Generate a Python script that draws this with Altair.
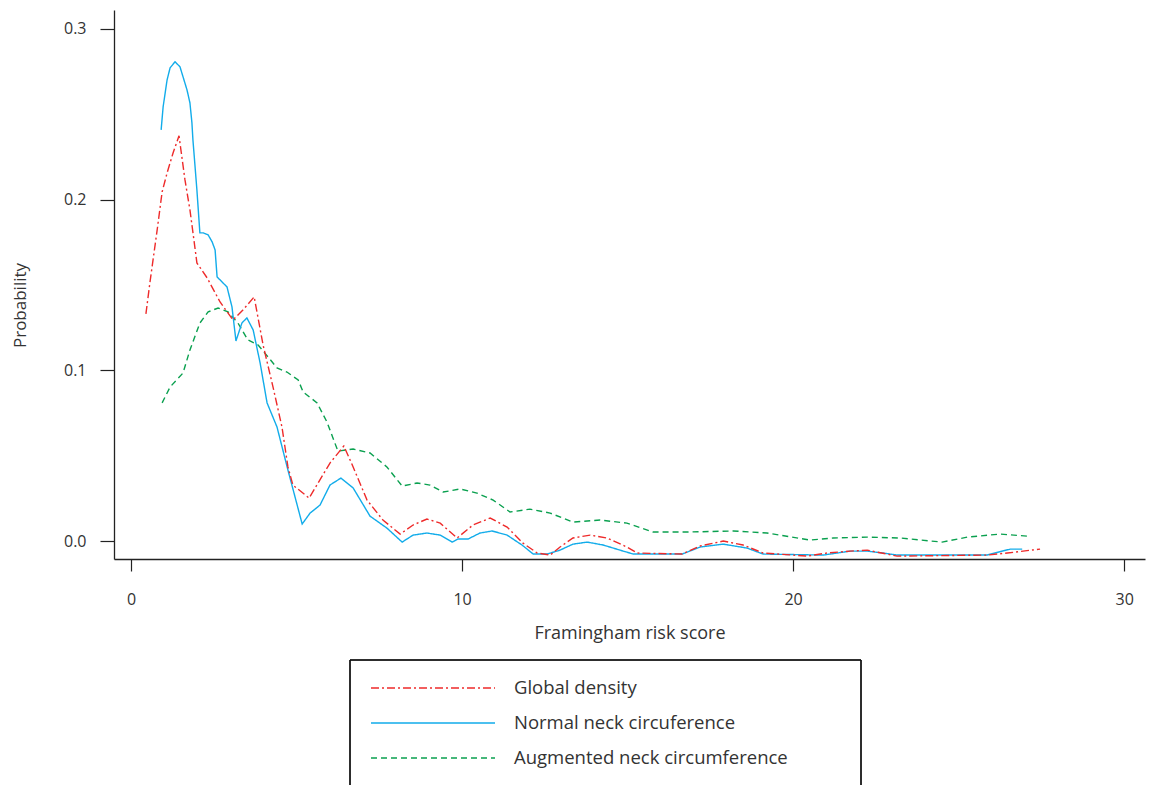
import altair as alt
import pandas as pd

series_names = ["Global density", "Normal neck circuference", "Augmented neck circumference"]
series_colors = ["#ee2a2a", "#12acea", "#0aa04f"]
series_dashes = [[8, 3, 2, 3], [1, 0], [6, 4]]

global_x = [0.45, 0.57, 0.79, 0.94, 1.09, 1.27, 1.45, 1.63, 1.78, 1.90, 1.99, 2.30, 2.69, 3.08,
            3.38, 3.72, 3.99, 4.29, 4.56, 4.74, 4.89, 5.38, 5.65, 6.01, 6.43, 6.71, 7.13, 7.61,
            8.13, 8.52, 8.94, 9.34, 9.85, 10.33, 10.85, 11.36, 11.84, 12.27, 12.66, 12.96, 13.35,
            13.87, 14.38, 14.98, 15.29, 16.65, 17.19, 17.89, 18.49, 19.09, 20.42, 21.03, 21.72,
            22.24, 23.14, 25.86, 26.47, 27.46]
global_y = [0.1330, 0.1512, 0.1822, 0.2045, 0.2156, 0.2273, 0.2373, 0.2115, 0.1939, 0.1764,
            0.1629, 0.1541, 0.1400, 0.1295, 0.1353, 0.1430, 0.1148, 0.0902, 0.0668, 0.0434,
            0.0328, 0.0252, 0.0340, 0.0457, 0.0557, 0.0434, 0.0240, 0.0123, 0.0041, 0.0094,
            0.0129, 0.0105, 0.0018, 0.0094, 0.0135, 0.0082, -0.0012, -0.0070, -0.0082, -0.0035,
            0.0018, 0.0035, 0.0018, -0.0035, -0.0070, -0.0076, -0.0029, 0.0000, -0.0023, -0.0070,
            -0.0088, -0.0070, -0.0059, -0.0053, -0.0088, -0.0082, -0.0070, -0.0047]

normal_x = [0.91, 0.97, 1.09, 1.18, 1.33, 1.48, 1.69, 1.78, 1.84, 1.87, 1.99, 2.08, 2.18, 2.33,
            2.45, 2.54, 2.60, 2.90, 3.05, 3.17, 3.35, 3.50, 3.69, 3.90, 4.11, 4.41, 4.74, 5.17,
            5.41, 5.71, 6.01, 6.34, 6.71, 7.22, 7.73, 8.19, 8.52, 8.94, 9.34, 9.70, 9.88, 10.18,
            10.54, 10.91, 11.36, 11.81, 12.15, 12.57, 12.96, 13.35, 13.78, 14.26, 14.77, 15.17,
            16.65, 17.19, 17.89, 18.61, 19.09, 20.91, 21.72, 22.24, 22.72, 23.14, 25.86, 26.56,
            26.92]
normal_y = [0.2408, 0.2543, 0.2701, 0.2771, 0.2807, 0.2777, 0.2643, 0.2566, 0.2449, 0.2350,
            0.2057, 0.1805, 0.1805, 0.1793, 0.1752, 0.1705, 0.1547, 0.1488, 0.1371, 0.1172,
            0.1277, 0.1307, 0.1236, 0.1043, 0.0809, 0.0668, 0.0416, 0.0100, 0.0164, 0.0211,
            0.0328, 0.0369, 0.0311, 0.0146, 0.0076, -0.0006, 0.0035, 0.0047, 0.0035, -0.0006,
            0.0012, 0.0012, 0.0047, 0.0059, 0.0035, -0.0023, -0.0076, -0.0076, -0.0053, -0.0018,
            -0.0006, -0.0023, -0.0053, -0.0076, -0.0076, -0.0035, -0.0018, -0.0041, -0.0076,
            -0.0082, -0.0059, -0.0059, -0.0070, -0.0082, -0.0082, -0.0047, -0.0047]

augmented_x = [0.94, 1.18, 1.57, 1.78, 2.08, 2.33, 2.63, 2.93, 3.23, 3.53, 3.84, 4.14, 4.41,
               4.71, 5.05, 5.20, 5.62, 5.92, 6.25, 6.71, 7.22, 7.73, 8.19, 8.64, 9.03, 9.43,
               9.94, 10.45, 10.94, 11.45, 12.05, 12.66, 13.35, 14.17, 14.98, 15.77, 16.80, 18.19,
               19.21, 20.51, 21.21, 22.24, 23.23, 24.50, 25.26, 26.25, 27.07]
augmented_y = [0.0809, 0.0902, 0.0984, 0.1119, 0.1277, 0.1342, 0.1365, 0.1342, 0.1277, 0.1178,
               0.1148, 0.1078, 0.1014, 0.0990, 0.0943, 0.0873, 0.0809, 0.0697, 0.0527, 0.0539,
               0.0516, 0.0434, 0.0322, 0.0340, 0.0328, 0.0287, 0.0305, 0.0281, 0.0240, 0.0170,
               0.0187, 0.0164, 0.0111, 0.0123, 0.0105, 0.0053, 0.0053, 0.0059, 0.0047, 0.0006,
               0.0018, 0.0023, 0.0018, -0.0006, 0.0023, 0.0041, 0.0029]

x_ticks = [0, 10, 20, 30]
y_ticks = [0.0, 0.1, 0.2, 0.3]

FONT = "Open Sans"
TXT = "#333333"

frames = []
for name, xs, ys in [(series_names[0], global_x, global_y),
                     (series_names[1], normal_x, normal_y),
                     (series_names[2], augmented_x, augmented_y)]:
    frames.append(pd.DataFrame({"x": xs, "y": ys, "series": name}))
df = pd.concat(frames, ignore_index=True)
legend_df = pd.DataFrame({"series": series_names})

color_enc = alt.Color("series:N", scale=alt.Scale(domain=series_names, range=series_colors), legend=None)
dash_enc = alt.StrokeDash("series:N", scale=alt.Scale(domain=series_names, range=series_dashes), legend=None)

x_enc = alt.X("x:Q", scale=alt.Scale(domain=[-0.514, 30.63], nice=False, zero=False),
              axis=alt.Axis(values=x_ticks, title="Framingham risk score", format="d"))
y_enc = alt.Y("y:Q", scale=alt.Scale(domain=[-0.0105, 0.311], nice=False, zero=False),
              axis=alt.Axis(values=y_ticks, title="Probability", format=".1f",
                            titleX=-85, titleY=295, titleFontSize=17))

def series_layer(name):
    return alt.Chart(df).transform_filter(alt.datum.series == name).mark_line(
        strokeWidth=1.4, clip=False
    ).encode(x=x_enc, y=y_enc, color=color_enc, strokeDash=dash_enc, order=alt.Order("x:Q"))

lines = alt.layer(series_layer(series_names[2]), series_layer(series_names[1]), series_layer(series_names[0]))

leg_y = alt.Y("series:N", scale=alt.Scale(type="point", domain=series_names, range=[678, 748], padding=0), axis=None)

legend_box = alt.Chart(legend_df).mark_rect(fill="transparent", stroke="#111111", strokeWidth=1).encode(
    x=alt.value(236), x2=alt.value(747), y=alt.value(650), y2=alt.value(830)
)
legend_lines = alt.Chart(legend_df).mark_rule(strokeWidth=1.4).encode(
    x=alt.value(257), x2=alt.value(381), y=leg_y, color=color_enc, strokeDash=dash_enc
)
legend_text = alt.Chart(legend_df).mark_text(align="left", baseline="middle", font=FONT, fontSize=18.5, color=TXT).encode(
    x=alt.value(400), y=leg_y, text="series:N"
)

chart = alt.layer(lines, legend_box, legend_lines, legend_text).resolve_scale(y="independent").properties(
    width=1031, height=549,
    padding={"left": 106, "top": 2, "right": 2, "bottom": 240},
    autosize=alt.AutoSizeParams(type="none"),
).configure_view(stroke=None).configure_axis(
    grid=False, domainColor="#222222", domainWidth=1.3, tickColor="#222222", tickWidth=1.2,
    labelFont=FONT, titleFont=FONT, labelFontSize=16, titleFontSize=18,
    labelColor=TXT, titleColor=TXT, titleFontWeight="normal"
).configure_axisX(
    tickSize=12, labelPadding=20, titlePadding=17
).configure_axisY(
    tickSize=14, labelPadding=14
)

chart.save("out.html", embed_options={"renderer": "svg", "actions": False})
